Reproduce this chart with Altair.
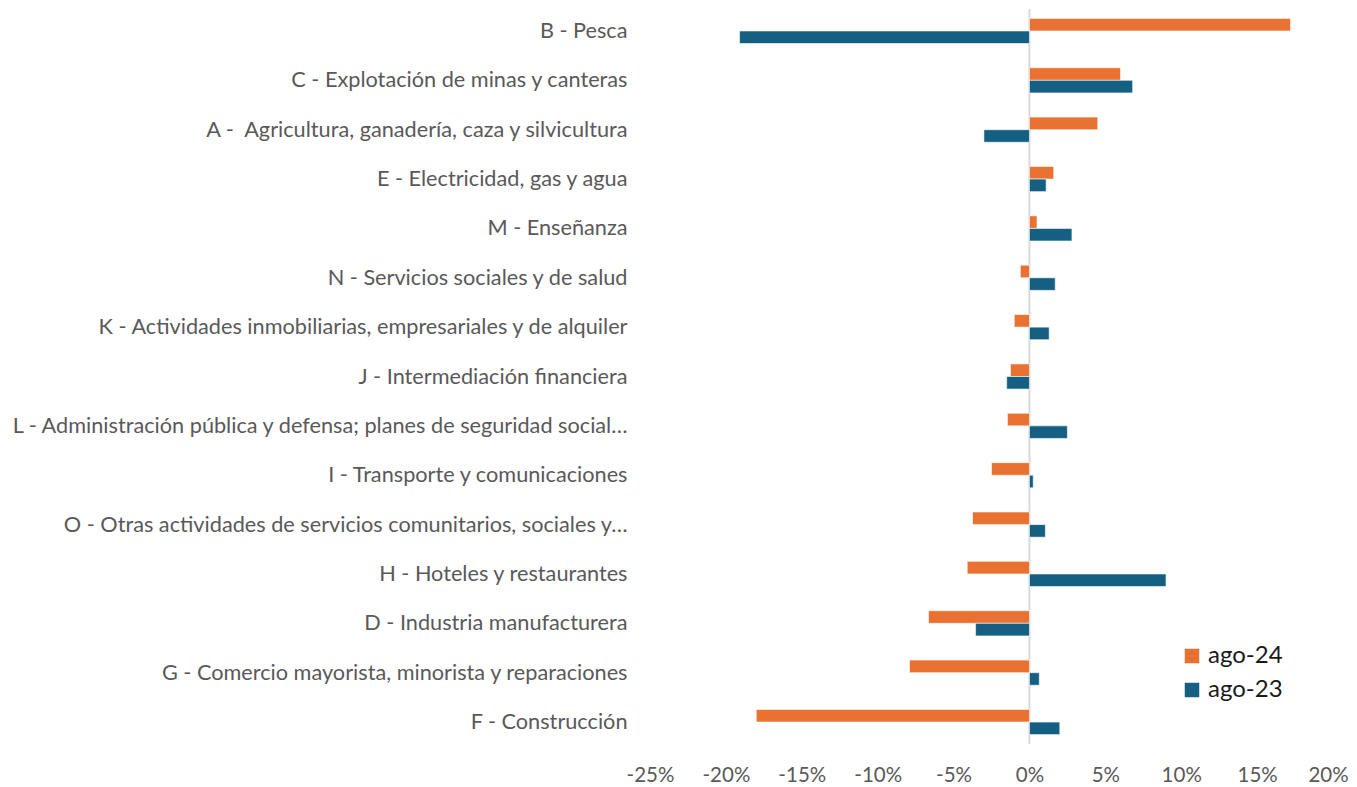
import altair as alt
import pandas as pd

categories = [
    "B - Pesca",
    "C - Explotación de minas y canteras",
    "A -\u00a0 Agricultura, ganadería, caza y silvicultura",
    "E - Electricidad, gas y agua",
    "M - Enseñanza",
    "N - Servicios sociales y de salud",
    "K - Actividades inmobiliarias, empresariales y de alquiler",
    "J - Intermediación financiera",
    "L - Administración pública y defensa; planes de seguridad social…",
    "I - Transporte y comunicaciones",
    "O - Otras actividades de servicios comunitarios, sociales y…",
    "H - Hoteles y restaurantes",
    "D - Industria manufacturera",
    "G - Comercio mayorista, minorista y reparaciones",
    "F - Construcción",
]
series = ["ago-24", "ago-23"]
ago24 = [17.2, 6.0, 4.5, 1.6, 0.5, -0.6, -1.0, -1.25, -1.45, -2.5, -3.75, -4.1, -6.65, -7.9, -18.0]
ago23 = [-19.1, 6.8, -3.0, 1.1, 2.8, 1.7, 1.3, -1.5, 2.5, 0.25, 1.05, 9.0, -3.55, 0.65, 2.0]
x_ticks = [-0.25, -0.20, -0.15, -0.10, -0.05, 0.0, 0.05, 0.10, 0.15, 0.20]

rows = []
for c, a, b in zip(categories, ago24, ago23):
    rows.append({"cat": c, "serie": "ago-24", "v": a / 100})
    rows.append({"cat": c, "serie": "ago-23", "v": b / 100})
df = pd.DataFrame(rows)

FONT = "Lato"
W, H = 683, 735
PL, PT = 642, 1

bars = alt.Chart(df).mark_bar(stroke="white", strokeWidth=0.6).encode(
    y=alt.Y("cat:N", sort=categories,
            scale=alt.Scale(paddingInner=0.49, paddingOuter=0.19),
            axis=alt.Axis(title=None, ticks=False, domain=False, labelLimit=800,
                          labelFont=FONT, labelFontSize=21.7, labelColor="#595959",
                          labelPadding=23)),
    yOffset=alt.YOffset("serie:N", sort=series, scale=alt.Scale(paddingInner=0, paddingOuter=0)),
    x=alt.X("v:Q", scale=alt.Scale(domain=[-0.25, 0.20], nice=False, zero=False),
            axis=alt.Axis(title=None, values=x_ticks, ticks=False, domain=False,
                          labelExpr="replace(format(datum.value, '.0%'), '\u2212', '-')",
                          labelOffset={"condition": {"test": "datum.value > 0.19", "value": -5}, "value": 0},
                          grid=False, labelFont=FONT, labelFontSize=20.5, labelColor="#595959",
                          labelPadding=21, labelFlush=False)),
    color=alt.Color("serie:N", sort=series,
                    scale=alt.Scale(domain=series, range=["#E97132", "#156082"]),
                    legend=alt.Legend(title=None, orient="none", legendX=530, legendY=635,
                                      symbolType="square", symbolSize=210, symbolStrokeWidth=0,
                                      labelFont=FONT, labelFontSize=24, labelColor="#1a1a1a",
                                      rowPadding=10, labelOffset=4)),
)

zero = alt.Chart(pd.DataFrame({"x": [0.0]})).mark_rule(color="#D9D9D9", strokeWidth=2).encode(x="x:Q")

chart = alt.layer(zero, bars).properties(
    width=W, height=H,
    background="white",
    autosize=alt.AutoSizeParams(type="none"),
    padding={"left": PL, "top": PT, "right": 1341 - PL - W, "bottom": 779 - PT - H},
).configure_view(strokeWidth=0, stroke="transparent")

chart.save("out.html", embed_options={"renderer": "svg", "actions": False})
